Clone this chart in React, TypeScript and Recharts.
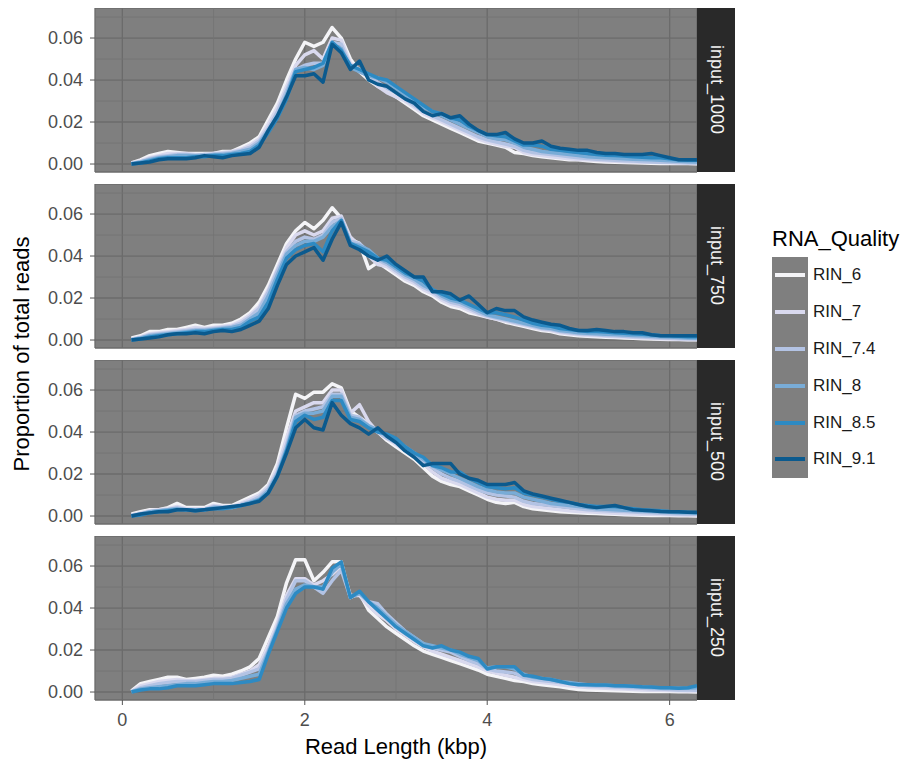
import React from 'react';
import { LineChart, Line, XAxis, YAxis, CartesianGrid, ReferenceLine } from 'recharts';

// read length bins (kbp)
const xKbp = [
  0.1, 0.2, 0.3, 0.4, 0.5, 0.6, 0.7, 0.8, 0.9, 1.0,
  1.1, 1.2, 1.3, 1.4, 1.5, 1.6, 1.7, 1.8, 1.9, 2.0,
  2.1, 2.2, 2.3, 2.4, 2.5, 2.6, 2.7, 2.8, 2.9, 3.0,
  3.1, 3.2, 3.3, 3.4, 3.5, 3.6, 3.7, 3.8, 3.9, 4.0,
  4.1, 4.2, 4.3, 4.4, 4.5, 4.6, 4.7, 4.8, 4.9, 5.0,
  5.1, 5.2, 5.3, 5.4, 5.5, 5.6, 5.7, 5.8, 5.9, 6.0,
  6.1, 6.2, 6.3,
];

const facets = ['input_1000', 'input_750', 'input_500', 'input_250'];
const qualities = ['RIN_6', 'RIN_7', 'RIN_7.4', 'RIN_8', 'RIN_8.5', 'RIN_9.1'];
const qualityColors = ['#f4f4f7', '#d9d9ee', '#b3c3e4', '#79acd7', '#2d8ac3', '#0b5a8e'];

const xTicks = [0, 2, 4, 6];
const yTicks = [0, 0.02, 0.04, 0.06];
const xMinor = [1, 3, 5];
const yMinor = [0.01, 0.03, 0.05, 0.07];

// proportion of total reads, in thousandths
const in1000_rin6 = [0.5,2,4,5,6,5.5,5,5,5,5, 6,6,8,10,13,21,29,40,50,58, 56,58,65,60,50,44,40,37,35,32, 29,26,23,21,19,17,15,13,11,10, 9,8,5.5,5,4,3.5,3,2.5,2,2, 1.5,1.2,1,0.8,0.7,0.6,0.5,0.4,0.3,0.3, 0.2,0.2,0.1];
const in1000_rin7 = [0.5,1.5,3,4,5,5,5,4.5,4.5,5, 5.5,6,7,9,12,19,27,37,47,52, 54,50,60,59,48,45,41,37,34,32, 30,27,24,22,20,18,16,14,12,10.5, 9.5,8.5,8,5.5,4.5,4,3.5,3,2.5,2.2, 2,1.8,1.5,1.3,1.1,1,0.9,0.8,0.7,0.6, 0.5,0.4,0.3];
const in1000_rin74 = [0.3,1,2.5,3.5,4,4.5,4.5,4,4.5,4.5, 5,5.5,6.5,8,11,17,25,35,45,47, 48,48,58,57,47,44,42,39,36,34, 31,28,25,23,21,19,17,15,13,11.5, 10.5,9.5,8.5,6.5,5.5,5,4.5,4,3.5,3, 2.6,2.3,2,1.8,1.6,1.4,1.2,1,0.9,0.8, 0.7,0.6,0.5];
const in1000_rin8 = [0.2,1,2,3,3.5,4,4,4,4,4.5, 4.5,5,6,7,10,16,23,33,45,46, 45,47,57,55,46,44,42,41,39,36, 33,30,27,25,23,21,19,17,15,13, 12,11.5,10,8,7,6,5.5,5,4.5,4, 3.5,3.2,3,2.7,2.5,2.3,2.1,2,1.8,1.5, 1.3,1.1,1];
const in1000_rin85 = [0,0.5,1.5,2.5,3,3,3,3.5,3.5,4, 4,4.5,5,6,9,15,22,31,44,45, 46,48,58,54,47,45,43,41,40,37, 34,31,28,25,24,22,21,18,16,14, 13.5,13,11,9,9,8.5,7,6.5,6,5.5, 5,4.5,4.2,4,3.8,3.5,3.2,3,3,2.5, 2,1.8,1.8];
const in1000_rin91 = [0,0.5,1,2,2.5,2.5,2.5,3,4,3.5, 3,4,4.5,5,8,16,23,32,42,42, 43,39,57,53,45,49,40,38,37,34, 31,29,25,23,24,22,23,19,16,14, 14,15,12,10,10,11,8.5,7.5,7,6.5, 6.5,5.5,5,5,4.5,4.5,4.5,5,4,3, 2,2,2];

const in750_rin6 = [1,2,4,4,5,5,6,7,6,7, 7,8,10,13,18,26,36,46,52,56, 53,57,63,58,48,46,34,37,34,31, 28,26,23,21,18,16,15,13,12,11, 10,8.5,7.5,6.5,5.5,4.5,4,3,2.5,2, 1.8,1.5,1.3,1.2,1,0.8,0.6,0.5,0.4,0.3, 0.2,0.1,0.1];
const in750_rin7 = [0.5,1.5,3,3.5,4,4.5,5,6,5.5,6, 6.5,7,9,12,16,24,34,44,50,52, 50,52,58,59,49,45,40,36,35,32, 29,27,24,22,19,17,16,14,12.5,11, 10,9,8,7,6,5,4.5,3.5,3,2.5, 2.2,2,1.8,1.6,1.4,1.2,1,0.8,0.6,0.5, 0.4,0.3,0.2];
const in750_rin74 = [0.3,1,2.5,3,3.5,4,4.5,5,5,5.5, 6,6.5,8,11,15,23,33,42,47,49, 48,50,56,58,47,46,42,38,36,33, 30,28,25,23,20,18,17,15,13,11.5, 10.5,9.5,8.5,7.5,6.5,5.5,5,4,3.5,3, 2.7,2.5,2.2,2,1.8,1.6,1.4,1.2,1,0.8, 0.7,0.6,0.5];
const in750_rin8 = [0.2,1,2,2.5,3,3.5,4,4.5,4.5,5, 5.5,6,7,10,13,21,31,41,45,47, 47,49,54,57,46,45,43,39,37,34, 31,29,26,24,21,19,18,16,14,12, 11,10,9,8,7,6,5.5,4.5,4,3.5, 3.2,3,2.8,2.6,2.4,2.2,2,1.8,1.6,1.4, 1.2,1,0.8];
const in750_rin85 = [0,0.5,1.5,2,2.5,3,3.5,4,4,4.5, 5,5,6,9,11,18,29,39,43,45, 46,42,52,57,46,44,42,39,38,35, 32,30,28,24,22,20,19,17,15,13, 13,12,11,9.5,8,7,6.5,5.5,5,4.5, 4,4,3.8,3.5,3.2,3,2.8,2.5,2.2,2, 1.8,1.6,1.5];
const in750_rin91 = [0,0.5,1,1.5,2.5,3,3,3.5,3,4, 4.5,4,5,7,9,15,26,36,40,42, 44,38,48,56,45,43,40,38,40,36, 33,30,30,23,23,22,19,21,17,13, 15,14,14,11,9.5,8.5,7.5,7,5.5,4.5, 4.5,5,4.5,4,4,3.5,3.5,2.5,2,2, 2,2,2];

const in500_rin6 = [1,2,3,3,4,6,4,4,4,6, 5,5,7,9,11,15,25,42,58,56, 59,59,63,61,50,47,44,40,36,33, 30,27,23,19,16.5,15,14,12,10,8, 6.5,6,6.5,4.5,3.5,3,2.5,2,1.8,1.5, 1.3,1.2,1,0.8,0.6,0.5,0.4,0.3,0.2,0.2, 0.1,0.1,0];
const in500_rin7 = [0.5,1.5,2.5,3,3.5,4.5,3.5,3.5,3.5,5, 4.5,4.5,6,8,10,14,23,37,50,52, 54,54,60,60,49,53,45,40,37,34, 31,28,25,21,18,16.5,15,13,11,9, 8,7.5,7.5,5.5,4.5,4,3.5,3,2.5,2.2, 2,1.8,1.5,1.3,1.1,1,0.9,0.8,0.7,0.6, 0.5,0.4,0.3];
const in500_rin74 = [0.3,1,2,2.5,3,4,3,3,3,4.5, 4,4,5.5,7,9,13,21,34,48,50, 51,52,58,58,48,47,43,40,37,35, 32,29,26,23,20,18,16.5,14.5,12.5,11, 10,9.5,9,7,6,5.5,5,4.5,4,3.5, 3,2.8,2.5,2.3,2.1,1.9,1.7,1.5,1.3,1.1, 1,0.9,0.8];
const in500_rin8 = [0.2,1,2,2.5,3,3.5,3,3,3,4, 4,4,5,6.5,8,12,20,32,47,49, 49,50,57,57,47,46,43,41,38,36, 33,30,27,24,22,20,18,16,14,12.5, 11.5,11,11,9,8,7,6,5.5,5,4.5, 4,3.5,3.2,3,2.8,2.6,2.4,2.2,2,1.8, 1.6,1.5,1.4];
const in500_rin85 = [0,0.5,1.5,2,2.5,3,3,2.5,3,3.5, 3.5,4,5,6,7.5,11,19,31,45,48, 46,47,55,55,46,45,42,40,39,37, 33,30,28,24,23,21,21,18,16,14, 13.5,13,13.5,11,10,9,8,7,6.5,5.5, 5,4.5,4.5,4.5,4,3.5,3,2.8,2.5,2.2, 2,1.8,1.6];
const in500_rin91 = [0,1,1.5,2,2,3,3,2.5,3,3.5, 4,4.5,5,6,7,11,19,30,42,46, 42,41,54,48,44,42,39,42,38,35, 31,28,24,25,25,25,20,18,17,15, 15,15,16,12,10.5,9.5,8.5,7.5,6.5,5.5, 4.5,4,4.5,5,4,3,2.8,2.5,2.2,2, 2,1.8,1.8];

const in250_rin6 = [0.5,4,5,6,7,7,6,6.5,7,8, 7.5,8.5,10,12,16,26,36,52,63,63, 53,57,62,62,45,47,39,35,31,28, 25,22,19.5,18,16.5,15,13.5,12,10.5,8.5, 7.5,6.5,5.5,5,4,3.5,3,2.5,1.8,1.2, 1,0.8,0.7,0.6,0.5,0.4,0.3,0.3,0.2,0.2, 0.1,0.1,0];
const in250_rin7 = [0.3,3,4,5,5.5,6,5.5,5.5,6,6.5, 6.5,7,8.5,10,13,22,33,46,54,54, 51,53,56,60,46,46,41,37,34,30, 27,24,21.5,19.5,18,16.5,15,13.5,12,10, 9,8,7,6,5,4.5,4,3.5,3,2.5, 2.2,2,1.8,1.6,1.4,1.2,1,0.9,0.8,0.7, 0.6,0.5,0.5];
const in250_rin74 = [0.2,2,3,4,4.5,5,5,5,5.5,6, 6,6.5,8,9.5,11,20,31,44,53,53, 50,47,53,58,45,47,43,42,37,33, 29,26,23,21,20,19,17,15,13.5,11, 10,9.5,9,7,6,5.5,5,4.5,4,3.5, 3,2.8,2.6,2.4,2.2,2,1.8,1.6,1.4,1.2, 1,1,0.9];
const in250_rin8 = [0.1,1.5,2,2.5,3,3.5,4,4,4.5,5, 5,5.5,6.5,7.5,8.5,19,30,42,49,51, 50,50,57,61,45,47,43,40,36,32, 29,26,23,22,21,20,18,16.5,15,11.5, 12,12,11,8.5,7,6.5,6,5,4.5,4, 3.5,3.3,3.2,3,2.8,2.6,2.4,2.2,2,1.9, 1.8,1.8,2];
const in250_rin85 = [0,1,1.5,1.5,2,3,3,3,3.5,4, 4,4,4.5,5,6,18,29,40,47,50, 50,49,59,62,45,48,43,39,35,31, 28,25,22,21,22,20,19,17,16,11, 12,12,12,8,7.5,6.5,6,5,4,3.5, 3.5,3.3,3.3,3,3,2.8,2.5,2.4,2,2, 1.8,2,3];

const facetSeries = [
  [in1000_rin6, in1000_rin7, in1000_rin74, in1000_rin8, in1000_rin85, in1000_rin91],
  [in750_rin6, in750_rin7, in750_rin74, in750_rin8, in750_rin85, in750_rin91],
  [in500_rin6, in500_rin7, in500_rin74, in500_rin8, in500_rin85, in500_rin91],
  [in250_rin6, in250_rin7, in250_rin74, in250_rin8, in250_rin85, null],
];

const FONT = '"Liberation Sans", Arial, Helvetica, sans-serif';
const PANEL_H = 164;
const PANEL_TOPS = [8, 184, 360, 536];
const PLOT_LEFT = 95;
const PLOT_RIGHT = 697;
const STRIP_W = 38;
const LABEL_PAD = 10; // room under panels 1-3 so the 0.00 label isn't clipped

function buildRows(series: (number[] | null)[]) {
  return xKbp.map((x, i) => {
    const row: Record<string, number | null> = { x };
    series.forEach((s, k) => {
      row['s' + k] = s ? s[i] / 1000 : null;
    });
    return row;
  });
}

const tickStyle = { fill: '#4d4d4d', fontSize: 18, fontFamily: FONT };
const minorStroke = '#737373';

function Panel({ idx }: { idx: number }) {
  const last = idx === facets.length - 1;
  const data = buildRows(facetSeries[idx]);
  const top = PANEL_TOPS[idx];
  return (
    <>
      <div style={{ position: 'absolute', left: 0, top }}>
        <LineChart
          width={PLOT_RIGHT}
          height={last ? PANEL_H + 40 : PANEL_H + LABEL_PAD}
          data={data}
          margin={{ top: 0, right: 0, bottom: last ? 0 : LABEL_PAD, left: 0 }}
        >
          <CartesianGrid fill="#7f7f7f" stroke="#6b6b6b" strokeWidth={1.3} />
          {xMinor.map((v) => (
            <ReferenceLine key={'vx' + v} x={v} stroke={minorStroke} strokeWidth={0.8} />
          ))}
          {yMinor.map((v) => (
            <ReferenceLine key={'hy' + v} y={v} stroke={minorStroke} strokeWidth={0.8} />
          ))}
          <XAxis
            type="number"
            dataKey="x"
            domain={[-0.3, 6.3]}
            ticks={xTicks}
            interval={0}
            allowDataOverflow
            hide={!last}
            height={40}
            axisLine={false}
            tickSize={5}
            tickMargin={8}
            tickLine={{ stroke: '#555555' }}
            tick={tickStyle}
          />
          <YAxis
            type="number"
            domain={[-0.0038, 0.0743]}
            ticks={yTicks}
            interval={0}
            allowDataOverflow
            width={PLOT_LEFT}
            axisLine={false}
            tickSize={5}
            tickMargin={7}
            tickLine={{ stroke: '#555555' }}
            tick={tickStyle}
            tickFormatter={(v: number) => v.toFixed(2)}
          />
          {qualities.map((q, k) =>
            facetSeries[idx][k] ? (
              <Line
                key={q}
                name={q}
                type="linear"
                dataKey={'s' + k}
                stroke={qualityColors[k]}
                strokeWidth={3.5}
                strokeLinejoin="round"
                dot={false}
                activeDot={false}
                isAnimationActive={false}
              />
            ) : null
          )}
        </LineChart>
      </div>
      <div
        style={{
          position: 'absolute',
          left: PLOT_RIGHT,
          top,
          width: STRIP_W,
          height: PANEL_H,
          background: '#292929',
          color: '#f2f2f2',
          fontSize: 18,
          fontFamily: FONT,
          display: 'flex',
          alignItems: 'center',
          justifyContent: 'center',
        }}
      >
        <span style={{ writingMode: 'vertical-rl', whiteSpace: 'nowrap' }}>{facets[idx]}</span>
      </div>
    </>
  );
}

function QualityLegend() {
  const keyH = 36.8;
  return (
    <div style={{ position: 'absolute', left: 772, top: 226, fontFamily: FONT }}>
      <div style={{ fontSize: 22, color: '#000', lineHeight: '26px', whiteSpace: 'nowrap' }}>RNA_Quality</div>
      <div style={{ position: 'absolute', left: 0, top: 31, width: 36, height: keyH * qualities.length, background: '#7f7f7f' }} />
      {qualities.map((q, k) => (
        <div key={q} style={{ position: 'absolute', left: 0, top: 31 + k * keyH, height: keyH, display: 'flex', alignItems: 'center' }}>
          <div style={{ width: 30, height: 4, marginLeft: 3, background: qualityColors[k] }} />
          <div style={{ marginLeft: 8, fontSize: 17, color: '#1a1a1a', whiteSpace: 'nowrap' }}>{q}</div>
        </div>
      ))}
    </div>
  );
}

export default function App() {
  return (
    <div style={{ position: 'absolute', left: 0, top: 0, width: 911, height: 760, background: '#fff', fontFamily: FONT }}>
      {facets.map((f, i) => (
        <Panel key={f} idx={i} />
      ))}
      <div
        style={{
          position: 'absolute',
          left: 22,
          top: 354,
          transform: 'translate(-50%, -50%) rotate(-90deg)',
          fontSize: 22,
          whiteSpace: 'nowrap',
          color: '#000',
        }}
      >
        Proportion of total reads
      </div>
      <div
        style={{
          position: 'absolute',
          left: (PLOT_LEFT + PLOT_RIGHT) / 2,
          top: 747,
          transform: 'translate(-50%, -50%)',
          fontSize: 22,
          whiteSpace: 'nowrap',
          color: '#000',
        }}
      >
        Read Length (kbp)
      </div>
      <QualityLegend />
    </div>
  );
}
